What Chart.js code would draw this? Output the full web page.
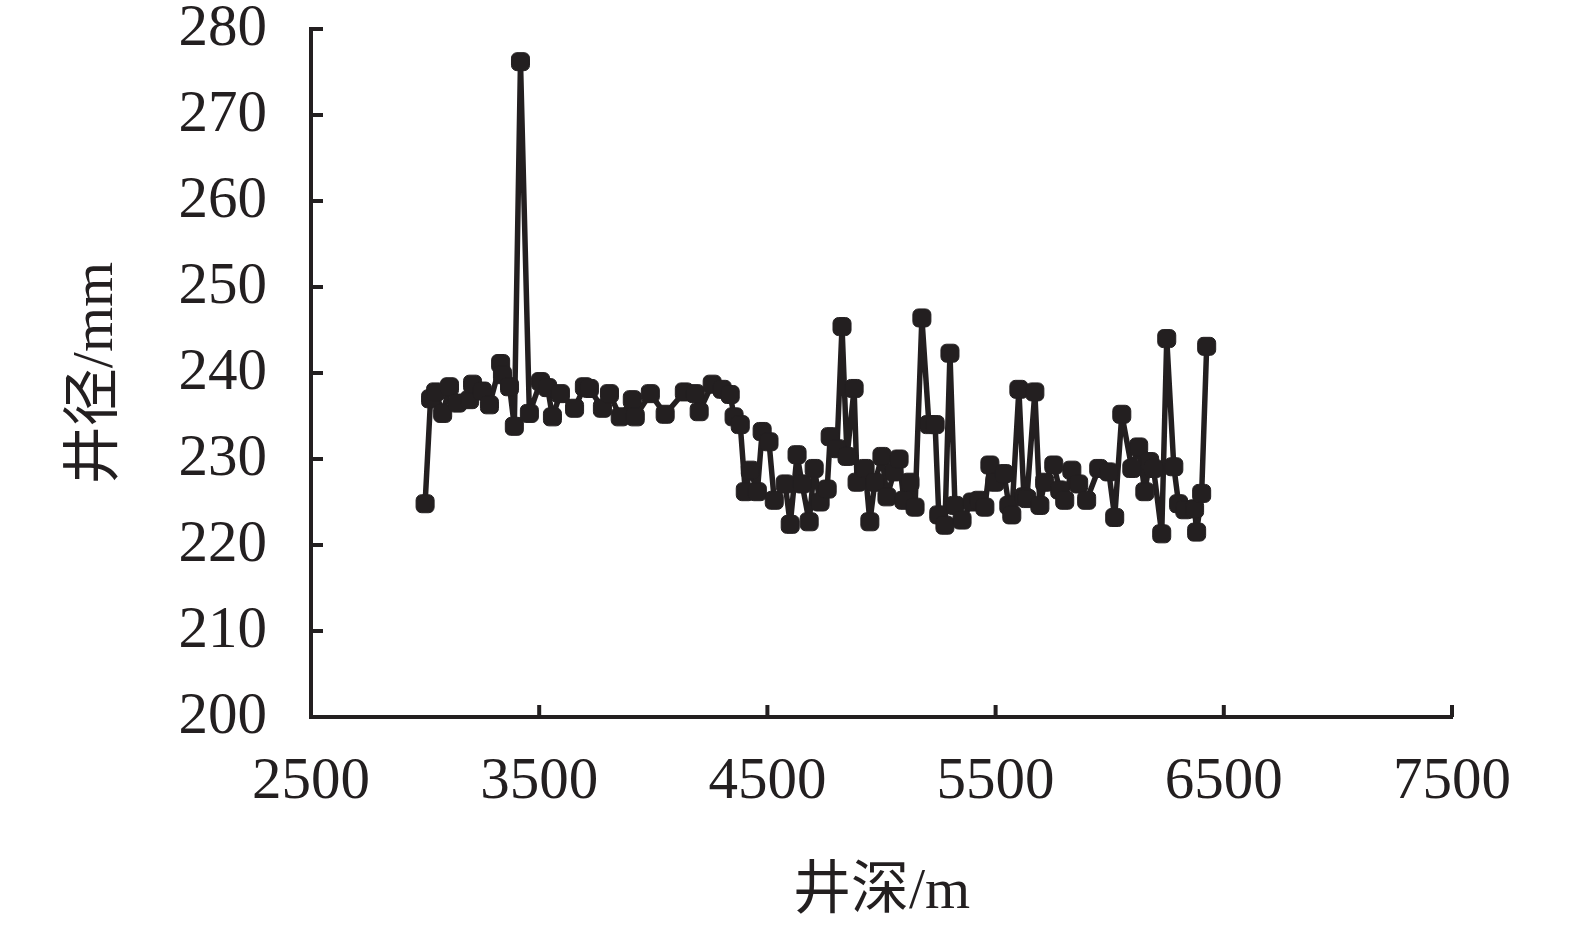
<!DOCTYPE html>
<html>
<head>
<meta charset="utf-8">
<script src="https://cdn.jsdelivr.net/npm/chart.js@4"></script>
<style>
  html, body { margin: 0; padding: 0; background: #fff; }
  #wrap { width: 1575px; height: 931px; }
</style>
</head>
<body>
<div id="wrap"><canvas id="c"></canvas></div>
<script>
// 井深 (m)
const depth = [
  3000, 3024, 3046, 3077, 3107, 3142, 3195, 3208, 3251, 3282,
  3331, 3339, 3370, 3391, 3418, 3457, 3506, 3537, 3558, 3593,
  3655, 3698, 3720, 3777, 3808, 3855, 3908, 3921, 3987, 4052,
  4136, 4184, 4201, 4258, 4302, 4337, 4354, 4381, 4403, 4425,
  4456, 4477, 4507, 4530, 4578, 4600, 4630, 4652, 4683, 4705,
  4731, 4762, 4775, 4805, 4827, 4849, 4880, 4893, 4928, 4949,
  4971, 5002, 5024, 5055, 5077, 5098, 5125, 5147, 5177, 5208,
  5235, 5251, 5278, 5300, 5322, 5353, 5397, 5427, 5453, 5475,
  5497, 5537, 5558, 5571, 5602, 5624, 5637, 5672, 5694, 5715,
  5755, 5781, 5803, 5834, 5864, 5899, 5952, 5996, 6022, 6053,
  6097, 6127, 6154, 6175, 6192, 6228, 6250, 6281, 6302, 6329,
  6372, 6381, 6403, 6425
];

// 井径 (mm)
const diameter = [
  224.8, 237.0, 237.8, 235.3, 238.4, 236.5, 236.9, 238.7, 237.9, 236.3,
  241.1, 239.8, 238.4, 233.8, 276.2, 235.3, 239.0, 238.3, 234.9, 237.6,
  235.9, 238.4, 238.2, 235.9, 237.6, 234.9, 236.9, 234.9, 237.6, 235.2,
  237.8, 237.6, 235.5, 238.7, 238.1, 237.5, 234.9, 234.0, 226.2, 228.7,
  226.2, 233.2, 232.0, 225.2, 227.1, 222.4, 230.5, 227.1, 222.7, 228.9,
  225.0, 226.5, 232.6, 231.2, 245.4, 230.3, 238.2, 227.3, 228.9, 222.7,
  227.3, 230.3, 225.6, 228.5, 230.0, 225.2, 227.3, 224.4, 246.4, 234.0,
  234.0, 223.5, 222.3, 242.3, 224.6, 222.9, 225.0, 225.2, 224.4, 229.3,
  227.3, 228.3, 224.6, 223.5, 238.1, 225.6, 225.4, 237.8, 224.6, 227.3,
  229.3, 226.4, 225.2, 228.7, 227.1, 225.2, 228.9, 228.5, 223.2, 235.2,
  228.9, 231.4, 226.2, 229.7, 228.9, 221.3, 244.0, 229.1, 224.8, 224.1,
  224.2, 221.5, 226.0, 243.1
];

const xTicks = [2500, 3500, 4500, 5500, 6500, 7500];
const yTicks = [200, 210, 220, 230, 240, 250, 260, 270, 280];

const ink = '#231f20';
const latin = '"Liberation Serif", "Times New Roman", serif';
const cjk = '"Liberation Serif", "Noto Sans CJK SC", serif';

// 軸の内側に目盛り線を描く
const innerTicks = {
  id: 'innerTicks',
  afterDatasetsDraw(chart) {
    const { ctx, scales: { x, y } } = chart;
    const len = 12;
    ctx.save();
    ctx.strokeStyle = ink;
    ctx.lineWidth = 4;
    ctx.beginPath();
    xTicks.forEach(v => {
      const px = x.getPixelForValue(v);
      ctx.moveTo(px, y.bottom);
      ctx.lineTo(px, y.bottom - len);
    });
    yTicks.forEach(v => {
      const py = y.getPixelForValue(v);
      ctx.moveTo(x.left, py);
      ctx.lineTo(x.left + len, py);
    });
    ctx.stroke();
    ctx.restore();
  }
};

new Chart(document.getElementById('c'), {
  type: 'scatter',
  data: {
    datasets: [{
      data: depth.map((d, i) => ({ x: d, y: diameter[i] })),
      showLine: true,
      borderColor: ink,
      borderWidth: 5.5,
      borderJoinStyle: 'round',
      backgroundColor: ink,
      pointStyle: 'rectRounded',
      pointRadius: 10.5,
      pointBorderWidth: 1,
      pointBorderColor: ink,
      pointBackgroundColor: ink
    }]
  },
  options: {
    responsive: true,
    maintainAspectRatio: false,
    animation: false,
    layout: { padding: { top: 29, right: 123, left: 0, bottom: 0 } },
    plugins: {
      legend: { display: false },
      tooltip: { enabled: false }
    },
    scales: {
      x: {
        type: 'linear',
        min: 2500,
        max: 7500,
        afterBuildTicks: s => { s.ticks = xTicks.map(v => ({ value: v })); },
        afterFit: s => { s.height = 214; s.paddingLeft = 0; s.paddingRight = 0; },
        border: { display: true, width: 4, color: ink },
        grid: { display: true, drawOnChartArea: false, drawTicks: false },
        ticks: {
          color: ink,
          padding: 36,
          maxRotation: 0,
          callback: v => String(v),
          font: { family: latin, size: 59, lineHeight: 1 }
        },
        title: {
          display: true,
          text: '井深/m',
          color: ink,
          padding: { top: 0, bottom: 3 },
          font: { family: cjk, size: 58 }
        }
      },
      y: {
        type: 'linear',
        min: 200,
        max: 280,
        afterBuildTicks: s => { s.ticks = yTicks.map(v => ({ value: v })); },
        afterFit: s => { s.width = 311; s.paddingTop = 0; s.paddingBottom = 0; },
        border: { display: true, width: 4, color: ink },
        grid: { display: true, drawOnChartArea: false, drawTicks: false },
        ticks: {
          color: ink,
          padding: 44,
          callback: v => String(v),
          font: { family: latin, size: 59, lineHeight: 1 }
        },
        title: {
          display: true,
          text: '井径/mm',
          color: ink,
          padding: { top: 62, bottom: 0 },
          font: { family: cjk, size: 58 }
        }
      }
    }
  },
  plugins: [innerTicks]
});
</script>
</body>
</html>
